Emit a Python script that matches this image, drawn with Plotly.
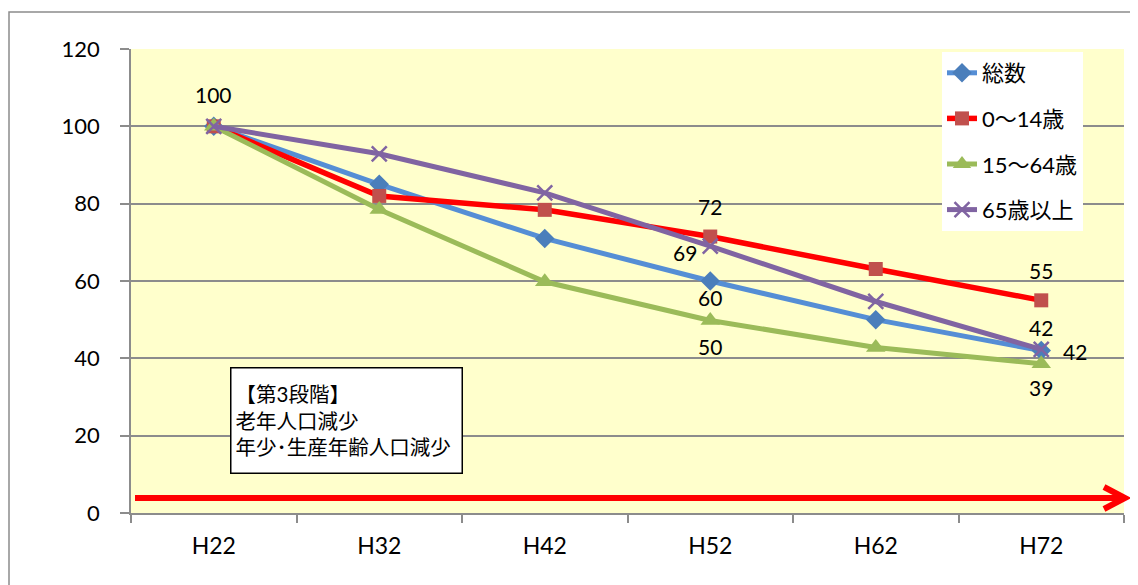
import plotly.graph_objects as go

categories = ["H22", "H32", "H42", "H52", "H62", "H72"]
total = [100, 85, 71, 60, 50, 42]
age_0_14 = [100, 82, 78.4, 71.5, 63.1, 55]
age_15_64 = [100, 78.5, 59.8, 49.8, 42.8, 38.6]
age_65_plus = [100, 92.9, 82.8, 69, 54.7, 42.3]
series_names = ["総数", "0～14歳", "15～64歳", "65歳以上"]
label_texts = {
    "総数": {0: "100", 3: "60", 5: "42"},
    "0～14歳": {3: "72", 5: "55"},
    "15～64歳": {3: "50", 5: "39"},
    "65歳以上": {3: "69", 5: "42"},
}
box_lines = ["【第3段階】", "老年人口減少", "年少･生産年齢人口減少"]

FONT = "Lato, 'Noto Sans CJK JP', sans-serif"

styles = {
    "総数": dict(line=dict(color="#558ED5", width=5),
                marker=dict(symbol="diamond", size=15, color="#4A7EBB",
                            line=dict(width=0))),
    "0～14歳": dict(line=dict(color="#FF0000", width=5.5),
                  marker=dict(symbol="square", size=14, color="#C0504D",
                              line=dict(width=0))),
    "15～64歳": dict(line=dict(color="#9BBB59", width=5),
                   marker=dict(symbol="triangle-up", size=17, color="#9BBB59",
                               line=dict(width=0))),
    "65歳以上": dict(line=dict(color="#8064A2", width=5),
                   marker=dict(symbol="x-thin", size=15, color="#8064A2",
                               line=dict(width=2.5, color="#8064A2"))),
}
label_offsets = {
    "総数": {0: (0, 32), 3: (0, -16), 5: (0, 23)},
    "0～14歳": {3: (0, 30), 5: (0, 30)},
    "15～64歳": {3: (0, -26), 5: (0, -24)},
    "65歳以上": {3: (-25, -6), 5: (34, -2)},
}

data = {"総数": total, "0～14歳": age_0_14, "15～64歳": age_15_64, "65歳以上": age_65_plus}

fig = go.Figure()
for name in series_names:
    fig.add_trace(go.Scatter(
        x=categories, y=data[name], name=name, mode="lines+markers",
        legendgroup=name, **styles[name]))

annotations = []
for name in series_names:
    for idx, txt in label_texts[name].items():
        xs, ys = label_offsets[name][idx]
        annotations.append(dict(
            x=categories[idx], y=data[name][idx], xref="x", yref="y",
            text=txt, showarrow=False, xshift=xs, yshift=ys,
            font=dict(family=FONT, size=21, color="black")))

# page body has an 8px margin; positions below are reference px minus 8
OFF = 8
FW, FH = 1138 - OFF, 585 - OFF
L, R, T, B = 131 - OFF, 1124 - OFF, 49 - OFF, 513 - OFF
W, H = R - L, B - T
def px(x):
    return (x - OFF - L) / W
def py(y):
    return (B - (y - OFF)) / H

annotations.append(dict(
    x=px(230), y=py(367), xref="paper", yref="paper", xanchor="left", yanchor="top",
    text="<br>".join(box_lines), showarrow=False, align="left", valign="middle",
    width=222, height=96, borderpad=4, bordercolor="black", borderwidth=1.5,
    bgcolor="white", font=dict(family=FONT, size=20.5, color="black")))

shapes = [
    dict(type="rect", xref="paper", yref="paper", x0=px(9), x1=px(1300), y0=py(12), y1=py(800),
         line=dict(color="#8C8C8C", width=1.5), fillcolor="rgba(0,0,0,0)", layer="below"),
    dict(type="line", xref="paper", yref="paper", x0=px(135), x1=px(1123), y0=py(498), y1=py(498),
         line=dict(color="#FF0000", width=6)),
    dict(type="path", xref="paper", yref="paper",
         path=f"M {px(1104)} {py(487)} L {px(1125)} {py(498)} L {px(1104)} {py(509)}",
         line=dict(color="#FF0000", width=6)),
]

fig.update_layout(
    width=FW, height=FH,
    margin=dict(l=L, r=FW - R, t=T, b=FH - B),
    paper_bgcolor="white", plot_bgcolor="#FFFFCC",
    font=dict(family=FONT, size=20, color="black"),
    showlegend=True,
    legend=dict(x=px(942), y=py(52), xanchor="left", yanchor="top",
                bgcolor="white", borderwidth=0, tracegroupgap=14,
                font=dict(family=FONT, size=22, color="black")),
    annotations=annotations, shapes=shapes,
)
fig.update_xaxes(type="category", showline=True, linecolor="#8C8C8C", linewidth=1.5,
                 ticks="outside", tickson="boundaries", ticklen=8, tickcolor="#8C8C8C",
                 tickwidth=1.5, showgrid=False, ticklabelstandoff=12,
                 tickfont=dict(family=FONT, size=23, color="black"), range=[-0.5, 5.5])
fig.update_yaxes(range=[0, 120], dtick=20, showline=True, linecolor="#8C8C8C", linewidth=1.5,
                 ticks="outside", ticklen=9, tickcolor="#8C8C8C", tickwidth=1.5,
                 showgrid=True, gridcolor="#8C8C8C", gridwidth=1.5, zeroline=False,
                 ticklabelstandoff=16,
                 tickfont=dict(family=FONT, size=22, color="black"))

fig.write_html("out.html")
